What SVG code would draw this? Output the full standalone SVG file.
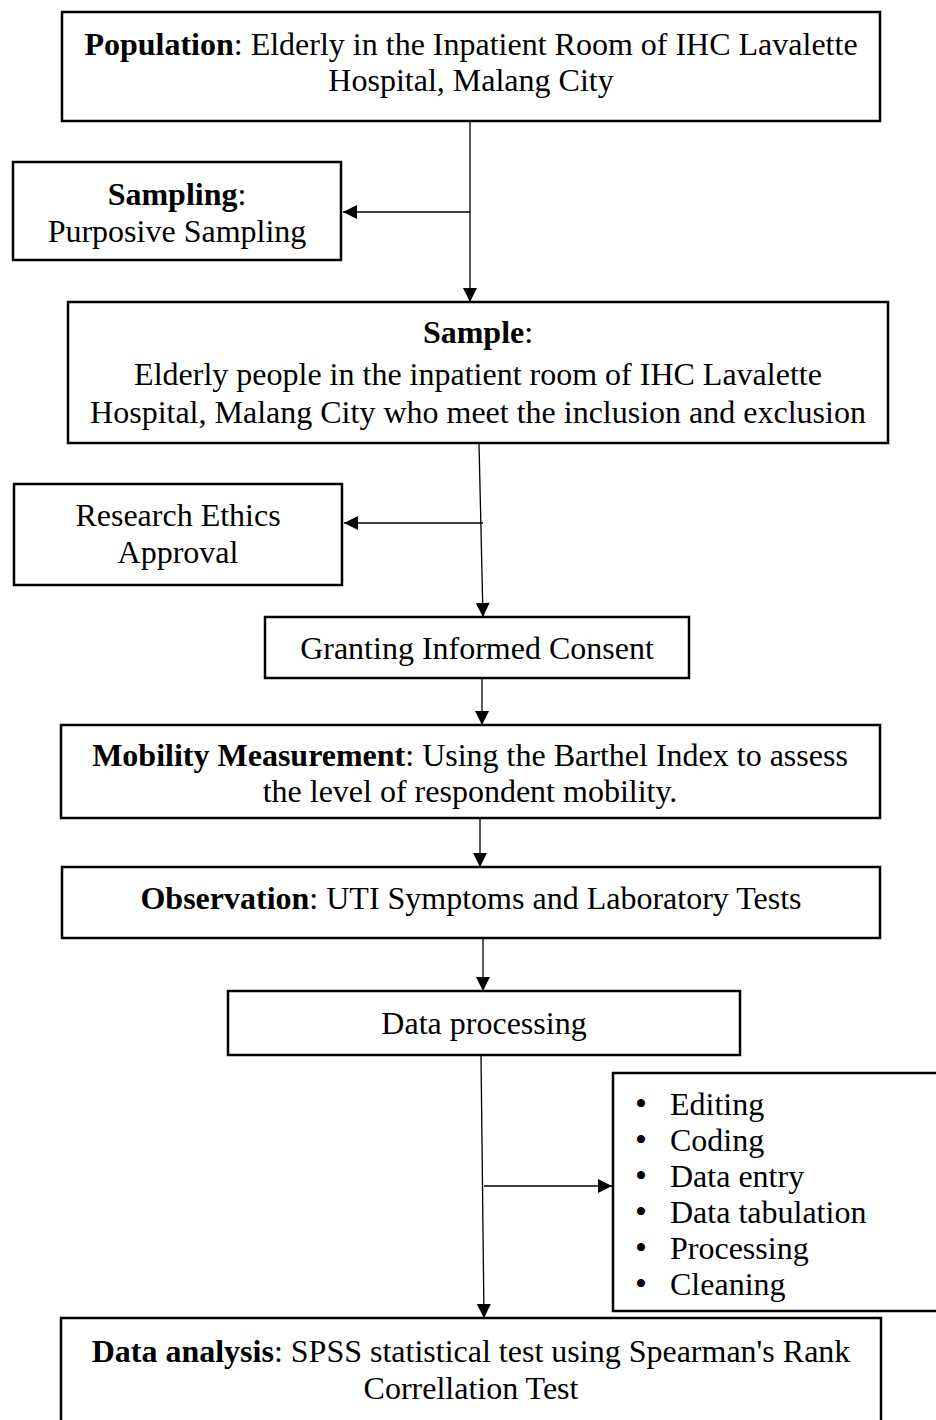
<svg xmlns="http://www.w3.org/2000/svg" width="936" height="1420" viewBox="0 0 936 1420">
<defs>
<style>
.box{fill:#fff;stroke:#000;stroke-width:2.5}
.t{font-family:"Liberation Serif","Times New Roman",serif;font-size:32px;fill:#000}
.c{text-anchor:middle}
.b{font-weight:bold}
.bu{font-size:34px}
.ln{stroke:#000;stroke-width:1.3;fill:none}
</style>
<marker id="ah" viewBox="0 0 10 10" refX="10" refY="5" markerWidth="15" markerHeight="14" markerUnits="userSpaceOnUse" orient="auto">
<path d="M0,0 L10,5 L0,10 Z" fill="#000"/>
</marker>
</defs>
<rect width="936" height="1420" fill="#fff"/>
<g id="connectors">
<line class="ln" x1="470" y1="121" x2="470" y2="302" marker-end="url(#ah)"/>
<line class="ln" x1="470" y1="212" x2="343" y2="212" marker-end="url(#ah)"/>
<line class="ln" x1="479" y1="443" x2="483" y2="617" marker-end="url(#ah)"/>
<line class="ln" x1="483" y1="523" x2="344" y2="523" marker-end="url(#ah)"/>
<line class="ln" x1="482" y1="678" x2="482" y2="725" marker-end="url(#ah)"/>
<line class="ln" x1="480" y1="818" x2="480" y2="867" marker-end="url(#ah)"/>
<line class="ln" x1="483" y1="938" x2="483" y2="991" marker-end="url(#ah)"/>
<line class="ln" x1="481" y1="1055" x2="484" y2="1318" marker-end="url(#ah)"/>
<line class="ln" x1="484" y1="1186" x2="612" y2="1186" marker-end="url(#ah)"/>
</g>
<g id="population">
<rect class="box" x="62" y="12" width="818" height="109"/>
<text class="t c" x="471" y="55"><tspan class="b">Population</tspan>: Elderly in the Inpatient Room of IHC Lavalette</text>
<text class="t c" x="471" y="91">Hospital, Malang City</text>
</g>
<g id="sampling">
<rect class="box" x="13" y="162" width="328" height="98"/>
<text class="t c" x="177" y="205"><tspan class="b">Sampling</tspan>:</text>
<text class="t c" x="177" y="242">Purposive Sampling</text>
</g>
<g id="sample">
<rect class="box" x="68" y="302" width="820" height="141"/>
<text class="t c" x="478" y="343"><tspan class="b">Sample</tspan>:</text>
<text class="t c" x="478" y="385">Elderly people in the inpatient room of IHC Lavalette</text>
<text class="t c" x="478" y="423">Hospital, Malang City who meet the inclusion and exclusion</text>
</g>
<g id="ethics">
<rect class="box" x="14" y="484" width="328" height="101"/>
<text class="t c" x="178" y="526">Research Ethics</text>
<text class="t c" x="178" y="563">Approval</text>
</g>
<g id="consent">
<rect class="box" x="265" y="617" width="424" height="61"/>
<text class="t c" x="477" y="659">Granting Informed Consent</text>
</g>
<g id="mobility">
<rect class="box" x="61" y="725" width="819" height="93"/>
<text class="t c" x="470" y="766"><tspan class="b">Mobility Measurement</tspan>: Using the Barthel Index to assess</text>
<text class="t c" x="470" y="802">the level of respondent mobility.</text>
</g>
<g id="observation">
<rect class="box" x="62" y="867" width="818" height="71"/>
<text class="t c" x="471" y="909"><tspan class="b">Observation</tspan>: UTI Symptoms and Laboratory Tests</text>
</g>
<g id="processing">
<rect class="box" x="228" y="991" width="512" height="64"/>
<text class="t c" x="484" y="1034">Data processing</text>
</g>
<g id="steps">
<rect class="box" x="613" y="1073" width="330" height="238"/>
<g class="t">
<text x="635" y="1115"><tspan class="bu">•</tspan><tspan x="670">Editing</tspan></text>
<text x="635" y="1151"><tspan class="bu">•</tspan><tspan x="670">Coding</tspan></text>
<text x="635" y="1187"><tspan class="bu">•</tspan><tspan x="670">Data entry</tspan></text>
<text x="635" y="1223"><tspan class="bu">•</tspan><tspan x="670">Data tabulation</tspan></text>
<text x="635" y="1259"><tspan class="bu">•</tspan><tspan x="670">Processing</tspan></text>
<text x="635" y="1295"><tspan class="bu">•</tspan><tspan x="670">Cleaning</tspan></text>
</g>
</g>
<g id="analysis">
<rect class="box" x="61" y="1318" width="820" height="110"/>
<text class="t c" x="471" y="1362"><tspan class="b">Data analysis</tspan>: SPSS statistical test using Spearman's Rank</text>
<text class="t c" x="471" y="1399">Correllation Test</text>
</g>
</svg>
